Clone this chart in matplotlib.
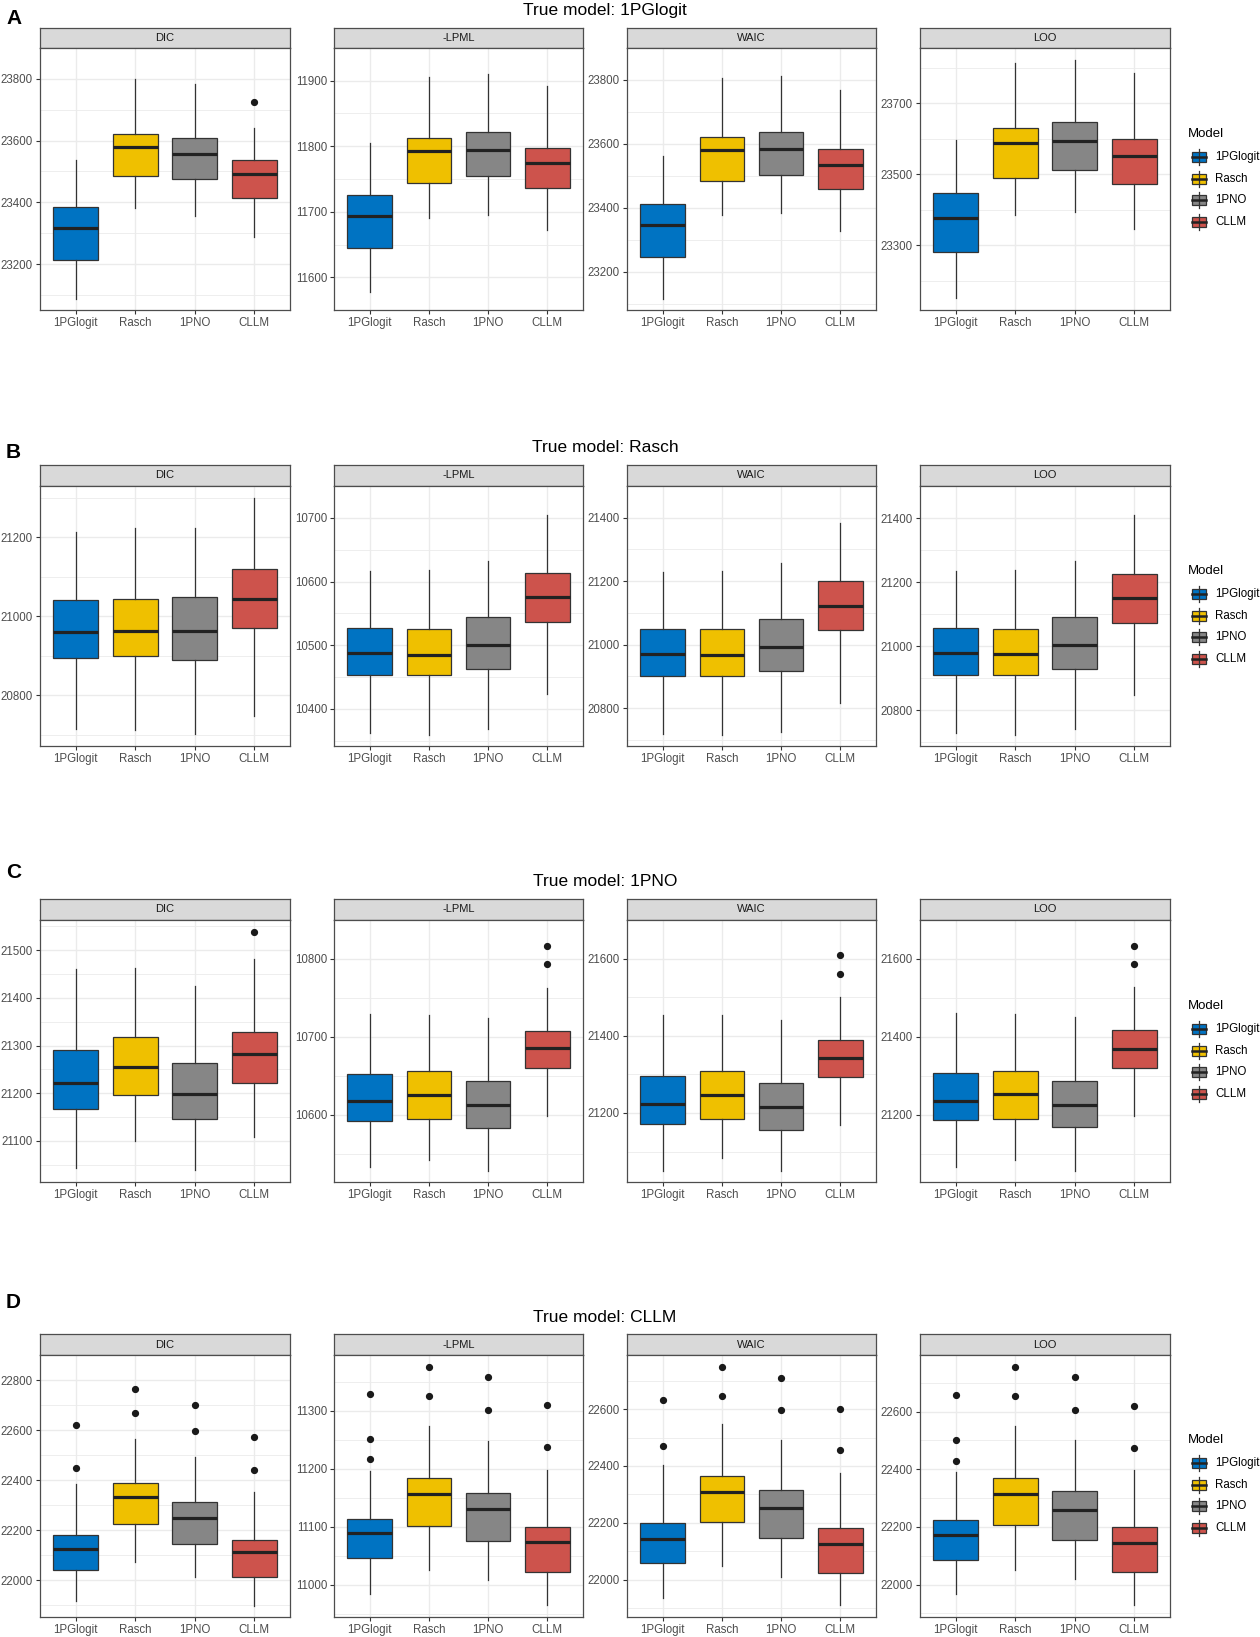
import matplotlib
matplotlib.use('Agg')
import matplotlib.pyplot as plt
from matplotlib.patches import Rectangle
from matplotlib.lines import Line2D
import numpy as np

plt.rcParams['font.family'] = ['Liberation Sans', 'DejaVu Sans']

# ---------------- data ----------------
models = ['1PGlogit', 'Rasch', '1PNO', 'CLLM']
colors = ['#0073C2', '#EFC000', '#868686', '#CD534C']
metrics = ['DIC', '-LPML', 'WAIC', 'LOO']
true_models = ['1PGlogit', 'Rasch', '1PNO', 'CLLM']
row_letters = ['A', 'B', 'C', 'D']

# per model: [lower whisker, Q1, median, Q3, upper whisker]
# ---- A: true model 1PGlogit
A_DIC = [[23087, 23214, 23318, 23385, 23538], [23382, 23486, 23580, 23622, 23800],
         [23357, 23475, 23558, 23608, 23782], [23289, 23415, 23492, 23536, 23641]]
A_DIC_out = [[], [], [], [23724]]
A_DIC_ticks = [23200, 23400, 23600, 23800]
A_LPML = [[11578, 11644, 11693, 11726, 11805], [11691, 11744, 11792, 11813, 11905],
          [11695, 11754, 11795, 11822, 11910], [11672, 11736, 11774, 11798, 11892]]
A_LPML_out = [[], [], [], []]
A_LPML_ticks = [11600, 11700, 11800, 11900]
A_WAIC = [[23116, 23247, 23348, 23414, 23563], [23379, 23484, 23581, 23622, 23807],
          [23383, 23503, 23584, 23637, 23813], [23329, 23458, 23535, 23584, 23769]]
A_WAIC_out = [[], [], [], []]
A_WAIC_ticks = [23200, 23400, 23600, 23800]
A_LOO = [[23151, 23282, 23378, 23448, 23597], [23385, 23490, 23588, 23629, 23812],
         [23393, 23512, 23594, 23646, 23822], [23346, 23473, 23550, 23598, 23784]]
A_LOO_out = [[], [], [], []]
A_LOO_ticks = [23300, 23500, 23700]

# ---- B: true model Rasch
B_DIC = [[20715, 20894, 20961, 21041, 21214], [20713, 20900, 20964, 21044, 21223],
         [20702, 20890, 20962, 21049, 21223], [20749, 20970, 21043, 21119, 21300]]
B_DIC_out = [[], [], [], []]
B_DIC_ticks = [20800, 21000, 21200]
B_LPML = [[10362, 10453, 10487, 10527, 10617], [10359, 10453, 10485, 10525, 10618],
          [10368, 10463, 10500, 10544, 10632], [10423, 10536, 10575, 10614, 10704]]
B_LPML_out = [[], [], [], []]
B_LPML_ticks = [10400, 10500, 10600, 10700]
B_WAIC = [[20719, 20901, 20970, 21049, 21230], [20714, 20902, 20968, 21048, 21233],
          [20726, 20918, 20993, 21081, 21257], [20817, 21045, 21122, 21199, 21384]]
B_WAIC_out = [[], [], [], []]
B_WAIC_ticks = [20800, 21000, 21200, 21400]
B_LOO = [[20728, 20908, 20977, 21056, 21235], [20722, 20908, 20974, 21054, 21238],
         [20740, 20929, 21002, 21091, 21266], [20847, 21072, 21149, 21226, 21408]]
B_LOO_out = [[], [], [], []]
B_LOO_ticks = [20800, 21000, 21200, 21400]

# ---- C: true model 1PNO
C_DIC = [[21044, 21166, 21222, 21290, 21460], [21099, 21197, 21255, 21318, 21462],
         [21039, 21146, 21199, 21264, 21425], [21109, 21222, 21283, 21328, 21482]]
C_DIC_out = [[], [], [], [21538]]
C_DIC_ticks = [21100, 21200, 21300, 21400, 21500]
C_LPML = [[10533, 10592, 10618, 10652, 10729], [10542, 10594, 10625, 10656, 10728],
          [10528, 10583, 10612, 10643, 10724], [10598, 10660, 10685, 10708, 10763]]
C_LPML_out = [[], [], [], [10794, 10817]]
C_LPML_ticks = [10600, 10700, 10800]
C_WAIC = [[21050, 21172, 21223, 21295, 21453], [21082, 21184, 21247, 21308, 21453],
          [21049, 21157, 21215, 21278, 21441], [21168, 21292, 21343, 21390, 21501]]
C_WAIC_out = [[], [], [], [21560, 21609]]
C_WAIC_ticks = [21200, 21400, 21600]
C_LOO = [[21066, 21187, 21237, 21307, 21461], [21084, 21191, 21253, 21314, 21459],
         [21057, 21169, 21225, 21288, 21451], [21197, 21321, 21370, 21417, 21527]]
C_LOO_out = [[], [], [], [21587, 21633]]
C_LOO_ticks = [21200, 21400, 21600]

# ---- D: true model CLLM
D_DIC = [[21919, 22042, 22124, 22183, 22385], [22075, 22224, 22333, 22387, 22564],
         [22012, 22147, 22251, 22313, 22491], [21897, 22013, 22112, 22162, 22354]]
D_DIC_out = [[22448, 22619], [22669, 22764], [22598, 22702], [22441, 22573]]
D_DIC_ticks = [22000, 22200, 22400, 22600, 22800]
D_LPML = [[10985, 11046, 11089, 11113, 11197], [11025, 11102, 11156, 11184, 11274],
          [11009, 11076, 11130, 11159, 11249], [10965, 11022, 11074, 11099, 11198]]
D_LPML_out = [[11217, 11252, 11329], [11326, 11376], [11302, 11359], [11237, 11310]]
D_LPML_ticks = [11000, 11100, 11200, 11300]
D_WAIC = [[21935, 22057, 22143, 22198, 22402], [22048, 22201, 22310, 22365, 22547],
          [22010, 22146, 22253, 22315, 22493], [21910, 22022, 22126, 22180, 22376]]
D_WAIC_out = [[22470, 22634], [22648, 22749], [22598, 22710], [22456, 22600]]
D_WAIC_ticks = [22000, 22200, 22400, 22600]
D_LOO = [[21966, 22086, 22173, 22223, 22389], [22050, 22208, 22315, 22370, 22551],
         [22019, 22155, 22260, 22323, 22501], [21929, 22043, 22145, 22199, 22397]]
D_LOO_out = [[22430, 22500, 22657], [22654, 22755], [22607, 22720], [22475, 22620]]
D_LOO_ticks = [22000, 22200, 22400, 22600]

rows = [
    [(A_DIC, A_DIC_out, A_DIC_ticks), (A_LPML, A_LPML_out, A_LPML_ticks),
     (A_WAIC, A_WAIC_out, A_WAIC_ticks), (A_LOO, A_LOO_out, A_LOO_ticks)],
    [(B_DIC, B_DIC_out, B_DIC_ticks), (B_LPML, B_LPML_out, B_LPML_ticks),
     (B_WAIC, B_WAIC_out, B_WAIC_ticks), (B_LOO, B_LOO_out, B_LOO_ticks)],
    [(C_DIC, C_DIC_out, C_DIC_ticks), (C_LPML, C_LPML_out, C_LPML_ticks),
     (C_WAIC, C_WAIC_out, C_WAIC_ticks), (C_LOO, C_LOO_out, C_LOO_ticks)],
    [(D_DIC, D_DIC_out, D_DIC_ticks), (D_LPML, D_LPML_out, D_LPML_ticks),
     (D_WAIC, D_WAIC_out, D_WAIC_ticks), (D_LOO, D_LOO_out, D_LOO_ticks)],
]

# ---------------- layout (pixels) ----------------
W, H = 1260, 1637
col_x = [(40, 290), (334, 583), (627, 876), (920, 1170)]
row_y = [(28, 48, 310), (465, 486, 746), (899, 920, 1182), (1334, 1355, 1617)]
title_y = [10, 448, 882, 1317]
letter_y = [19, 453, 873, 1303]
legend_y = [134, 571, 1006, 1440]

EDGE = '#333333'
BORDER = '#4d4d4d'
GRID = '#EBEBEB'
TXT = '#4D4D4D'

fig = plt.figure(figsize=(W / 100, H / 100), dpi=100)


def frect(x0, y0, x1, y1):
    return [x0 / W, 1 - y1 / H, (x1 - x0) / W, (y1 - y0) / H]


for r, row in enumerate(rows):
    st, pt, pb = row_y[r]
    for c, (vals, outs, ticks) in enumerate(row):
        x0, x1 = col_x[c]
        # strip
        sax = fig.add_axes(frect(x0, st, x1, pt))
        sax.set_facecolor('#D9D9D9')
        sax.set_xticks([])
        sax.set_yticks([])
        for s in sax.spines.values():
            s.set_color(BORDER)
            s.set_linewidth(0.9)
        sax.text(0.5, 0.5, metrics[c], ha='center', va='center',
                 fontsize=8, color='#1A1A1A', transform=sax.transAxes)
        # panel
        ax = fig.add_axes(frect(x0, pt, x1, pb))
        stats = []
        for m in range(4):
            lo, q1, med, q3, hi = vals[m]
            stats.append(dict(whislo=lo, q1=q1, med=med, q3=q3, whishi=hi,
                              fliers=outs[m], label=models[m]))
        bp = ax.bxp(stats, positions=[1, 2, 3, 4], widths=0.75, patch_artist=True,
                    showcaps=False, showfliers=True,
                    boxprops=dict(edgecolor=EDGE, linewidth=0.9),
                    medianprops=dict(color='#222222', linewidth=2.3),
                    whiskerprops=dict(color=EDGE, linewidth=0.9),
                    flierprops=dict(marker='o', markerfacecolor='#1a1a1a',
                                    markeredgecolor='#1a1a1a', markersize=4.2))
        for patch, col in zip(bp['boxes'], colors):
            patch.set_facecolor(col)
        allv = [v for mv in vals for v in mv] + [v for o in outs for v in o]
        lo, hi = min(allv), max(allv)
        pad = 0.05 * (hi - lo)
        ax.set_ylim(lo - pad, hi + pad)
        ax.set_xlim(0.4, 4.6)
        step = ticks[1] - ticks[0]
        ax.set_yticks(ticks)
        ax.set_yticklabels([str(t) for t in ticks])
        minor = np.arange(ticks[0] - step / 2, ticks[-1] + step, step)
        ax.set_yticks(minor, minor=True)
        ax.tick_params(axis='y', which='minor', length=0)
        ax.set_xticks([1, 2, 3, 4])
        ax.set_xticklabels(models)
        ax.tick_params(axis='both', which='major', length=3, width=0.8, color=EDGE,
                       labelsize=8.3, labelcolor=TXT, pad=2)
        ax.grid(True, which='major', color=GRID, linewidth=1.0)
        ax.grid(True, which='minor', axis='y', color=GRID, linewidth=0.6)
        ax.set_axisbelow(True)
        for s in ax.spines.values():
            s.set_color(BORDER)
            s.set_linewidth(0.9)

    # row title and letter
    fig.text(605 / W, 1 - title_y[r] / H, 'True model: ' + true_models[r],
             ha='center', va='center', fontsize=12.5, color='black')
    fig.text(6 / W, 1 - letter_y[r] / H, row_letters[r], ha='left', va='center',
             fontsize=15, fontweight='bold', color='black')

    # legend
    ly = legend_y[r]
    fig.text(1188 / W, 1 - ly / H, 'Model', ha='left', va='center', fontsize=9.5,
             color='black')
    for i in range(4):
        ky = ly + 23 + 21.7 * i
        fig.add_artist(Line2D([1198.5 / W, 1198.5 / W], [1 - (ky - 8) / H, 1 - (ky + 8) / H],
                              transform=fig.transFigure, color=EDGE, linewidth=0.9))
        fig.add_artist(Rectangle((1191.5 / W, 1 - (ky + 5) / H), 14 / W, 10 / H,
                                 transform=fig.transFigure, facecolor=colors[i],
                                 edgecolor=EDGE, linewidth=0.9))
        fig.add_artist(Line2D([1191.5 / W, 1205.5 / W], [1 - ky / H, 1 - ky / H],
                              transform=fig.transFigure, color='#222222', linewidth=1.8))
        fig.text(1215 / W, 1 - ky / H, models[i], ha='left', va='center',
                 fontsize=8.3, color='black')

fig.savefig('out.png', dpi=100, facecolor='white')
